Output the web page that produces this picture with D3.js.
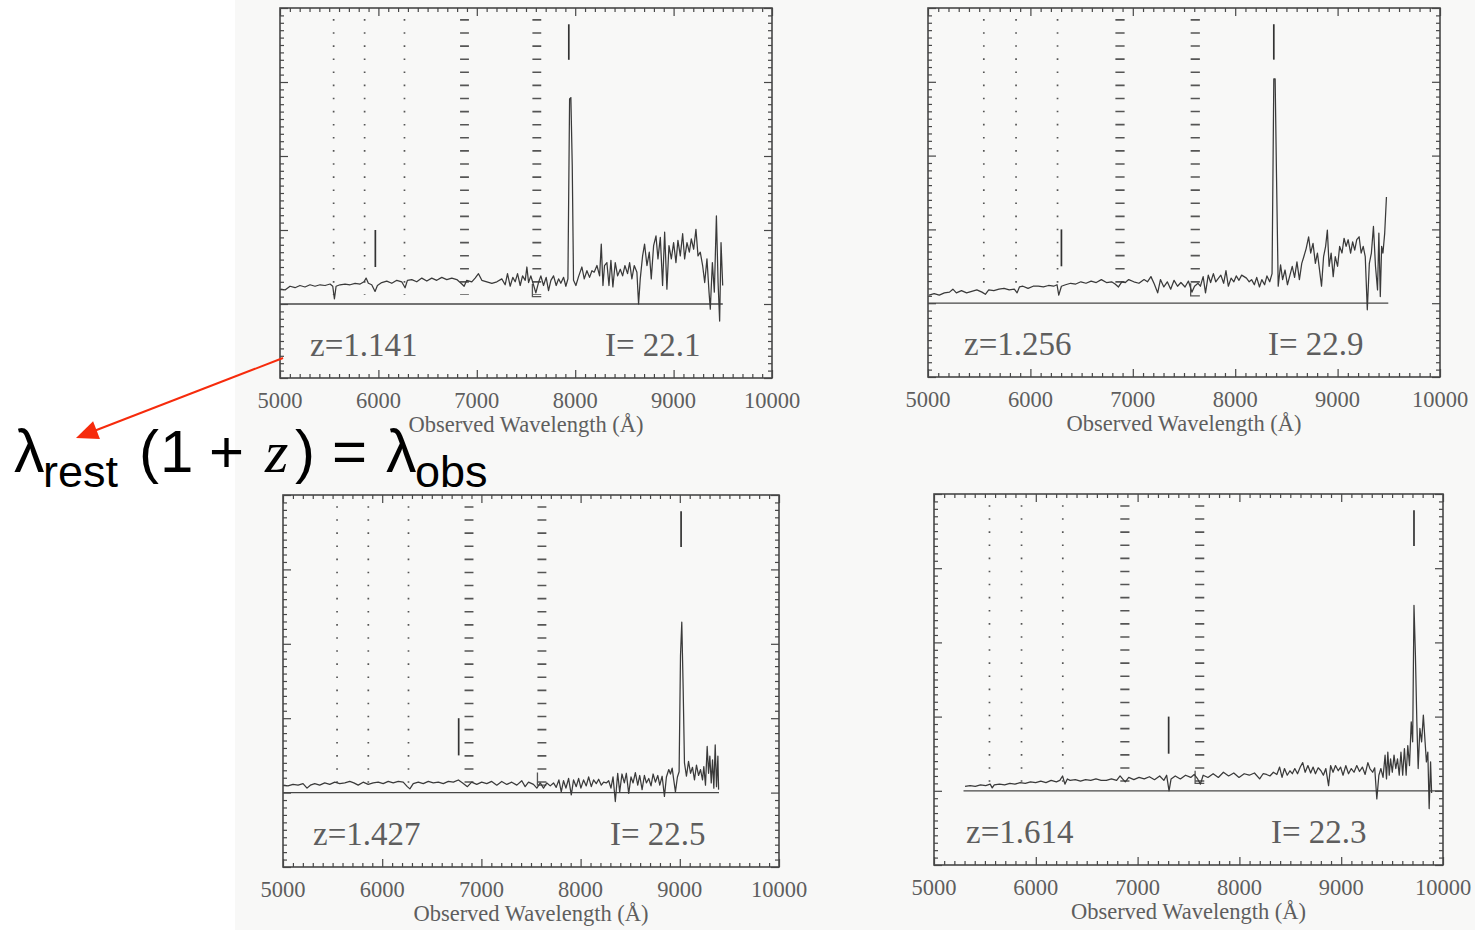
<!DOCTYPE html>
<html>
<head>
<meta charset="utf-8">
<script src="https://cdn.jsdelivr.net/npm/d3@7"></script>
<style>
  body { margin: 0; background: #fff; }
  svg { display: block; }
</style>
</head>
<body>
<svg id="canvas"></svg>
<script>
// ---- data ----
const redshifts = [1.141, 1.256, 1.427, 1.614];
const magnitudes = ['22.1', '22.9', '22.5', '22.3'];
const xTicks = [5000, 6000, 7000, 8000, 9000, 10000];
const yTicks = [-1, 0, 1, 2, 3, 4];

// atmospheric features (dotted lines, and the two absorption bands)
const skyLines = [5545, 5860, 6265];
const skyBands = [[6830, 6920], [7565, 7655]];

// line identification marks ([OII] above, MgII absorption below)
const oiiMarks = [7935, 8377, 9013, 9715];
const mgiiMarks = [5969, 6303, 6771, 7305];

// span of the zero level in each panel
const zeroSpans = [[5000, 9500], [5000, 9495], [5000, 9395], [5290, 9995]];

// [wavelength (A), flux]
const spec1 = [[5005,0.20],[5051,0.19],[5102,0.24],[5153,0.22],[5203,0.25],[5254,0.23],[5305,0.26],[5356,0.24],[5407,0.26],[5458,0.25],[5509,0.27],[5536,0.24],[5553,0.07],[5570,0.24],[5610,0.26],[5661,0.27],[5712,0.26],[5763,0.28],[5814,0.27],[5854,0.30],[5875,0.35],[5898,0.28],[5932,0.26],[5966,0.17],[5990,0.25],[6034,0.29],[6085,0.31],[6136,0.28],[6187,0.32],[6237,0.30],[6271,0.22],[6295,0.32],[6339,0.33],[6390,0.30],[6441,0.35],[6492,0.31],[6542,0.35],[6593,0.32],[6644,0.36],[6695,0.33],[6746,0.35],[6797,0.33],[6848,0.27],[6871,0.24],[6898,0.32],[6949,0.30],[6983,0.35],[7017,0.41],[7051,0.32],[7102,0.30],[7153,0.28],[7204,0.30],[7254,0.34],[7288,0.26],[7312,0.41],[7339,0.24],[7366,0.36],[7390,0.30],[7414,0.41],[7441,0.25],[7465,0.38],[7492,0.32],[7509,0.50],[7526,0.29],[7549,0.38],[7576,0.26],[7600,0.15],[7627,0.29],[7651,0.38],[7678,0.25],[7705,0.36],[7729,0.18],[7753,0.32],[7780,0.38],[7807,0.25],[7831,0.34],[7854,0.28],[7882,0.36],[7905,0.24],[7926,0.34],[7943,2.77],[7956,2.79],[7970,1.87],[7983,0.32],[8007,0.25],[8034,0.37],[8068,0.50],[8092,0.34],[8119,0.45],[8146,0.36],[8170,0.45],[8193,0.43],[8221,0.52],[8248,0.38],[8265,0.81],[8282,0.25],[8298,0.52],[8322,0.56],[8343,0.25],[8363,0.59],[8383,0.23],[8407,0.56],[8431,0.38],[8458,0.47],[8482,0.38],[8505,0.52],[8532,0.41],[8553,0.56],[8576,0.34],[8600,0.52],[8627,0.43],[8644,0.00],[8661,0.34],[8685,0.65],[8705,0.81],[8729,0.52],[8753,0.70],[8773,0.34],[8797,0.79],[8821,0.92],[8841,0.61],[8865,0.90],[8888,0.25],[8909,0.97],[8932,0.20],[8953,0.79],[8977,0.61],[9000,0.83],[9024,0.56],[9044,0.86],[9068,0.65],[9092,0.95],[9112,0.61],[9136,0.83],[9160,0.70],[9180,0.88],[9204,0.74],[9227,1.01],[9248,0.65],[9271,0.70],[9295,0.52],[9316,0.29],[9339,0.61],[9360,0.16],[9373,-0.07],[9394,0.56],[9414,0.16],[9435,1.19],[9452,0.29],[9468,-0.23],[9482,0.83],[9499,0.25]];

const spec2 = [[5010,0.11],[5060,0.13],[5110,0.11],[5160,0.14],[5210,0.15],[5243,0.19],[5277,0.14],[5327,0.17],[5377,0.14],[5427,0.16],[5477,0.18],[5527,0.15],[5560,0.12],[5593,0.18],[5643,0.17],[5693,0.19],[5743,0.20],[5793,0.18],[5843,0.19],[5870,0.14],[5893,0.22],[5927,0.23],[5977,0.20],[6027,0.23],[6077,0.23],[6127,0.22],[6177,0.24],[6227,0.23],[6260,0.25],[6277,0.11],[6303,0.23],[6343,0.25],[6393,0.27],[6443,0.26],[6493,0.29],[6543,0.27],[6593,0.30],[6643,0.28],[6693,0.32],[6743,0.28],[6793,0.29],[6827,0.26],[6860,0.22],[6893,0.29],[6927,0.28],[6960,0.32],[7010,0.29],[7060,0.27],[7110,0.32],[7143,0.29],[7177,0.36],[7210,0.26],[7243,0.14],[7270,0.32],[7303,0.22],[7337,0.29],[7370,0.19],[7403,0.31],[7437,0.23],[7470,0.28],[7510,0.22],[7543,0.30],[7577,0.15],[7603,0.23],[7637,0.27],[7660,0.23],[7687,0.36],[7710,0.14],[7737,0.38],[7760,0.28],[7787,0.40],[7810,0.29],[7837,0.34],[7860,0.38],[7887,0.27],[7910,0.44],[7933,0.23],[7960,0.34],[7987,0.29],[8010,0.37],[8037,0.31],[8063,0.38],[8087,0.36],[8110,0.34],[8137,0.29],[8160,0.32],[8187,0.25],[8210,0.35],[8237,0.22],[8260,0.32],[8287,0.25],[8310,0.37],[8337,0.29],[8360,0.40],[8377,3.04],[8390,3.04],[8403,1.76],[8420,0.23],[8443,0.52],[8463,0.32],[8487,0.45],[8510,0.25],[8533,0.37],[8557,0.50],[8580,0.35],[8603,0.56],[8627,0.32],[8650,0.54],[8670,0.63],[8693,0.74],[8717,0.90],[8737,0.68],[8760,0.81],[8783,0.54],[8803,0.68],[8827,0.41],[8843,0.23],[8863,0.63],[8883,0.77],[8900,0.99],[8917,0.50],[8937,0.68],[8957,0.36],[8977,0.63],[9000,0.50],[9020,0.77],[9043,0.68],[9063,0.88],[9083,0.77],[9103,0.86],[9127,0.68],[9147,0.83],[9167,0.72],[9187,0.86],[9210,0.90],[9230,0.68],[9250,0.77],[9270,0.63],[9290,-0.09],[9310,0.54],[9330,0.68],[9350,1.04],[9370,0.50],[9390,0.18],[9403,0.95],[9417,0.09],[9430,0.77],[9443,0.68],[9460,0.95],[9477,1.44]];

const spec3 = [[5005,0.10],[5050,0.09],[5101,0.11],[5152,0.10],[5202,0.12],[5242,0.06],[5276,0.10],[5320,0.12],[5370,0.10],[5421,0.13],[5471,0.11],[5522,0.14],[5572,0.12],[5623,0.13],[5673,0.15],[5714,0.13],[5758,0.10],[5808,0.14],[5859,0.11],[5909,0.13],[5960,0.14],[6010,0.12],[6061,0.15],[6111,0.13],[6162,0.15],[6212,0.14],[6253,0.08],[6279,0.05],[6313,0.12],[6364,0.14],[6414,0.12],[6465,0.15],[6515,0.13],[6566,0.14],[6616,0.12],[6667,0.15],[6717,0.14],[6768,0.17],[6811,0.13],[6859,0.08],[6902,0.14],[6953,0.11],[7003,0.14],[7054,0.12],[7104,0.15],[7155,0.10],[7205,0.15],[7256,0.11],[7306,0.14],[7357,0.10],[7407,0.16],[7441,0.08],[7475,0.14],[7525,0.11],[7559,0.06],[7593,0.13],[7626,0.06],[7660,0.13],[7694,0.09],[7727,0.13],[7754,0.07],[7781,0.17],[7805,0.01],[7828,0.16],[7852,0.06],[7879,0.19],[7906,-0.03],[7929,0.17],[7956,0.08],[7980,0.19],[8003,0.06],[8030,0.17],[8057,0.09],[8081,0.21],[8108,0.08],[8131,0.17],[8158,0.12],[8182,0.18],[8209,0.10],[8232,0.14],[8259,0.13],[8283,0.16],[8306,0.06],[8327,0.21],[8350,-0.12],[8374,0.26],[8394,0.01],[8417,0.25],[8441,0.13],[8461,0.26],[8485,-0.01],[8508,0.21],[8529,0.13],[8552,0.27],[8576,0.10],[8596,0.23],[8620,0.04],[8643,0.23],[8663,0.13],[8687,0.19],[8710,0.09],[8731,0.25],[8754,0.14],[8778,0.23],[8798,0.10],[8822,0.22],[8845,-0.05],[8865,0.21],[8889,0.31],[8906,0.25],[8923,0.33],[8939,0.17],[8956,0.01],[8976,0.21],[8993,0.28],[9007,1.84],[9020,2.29],[9034,1.39],[9047,0.40],[9067,0.22],[9088,0.42],[9108,0.26],[9128,0.34],[9148,0.17],[9168,0.37],[9189,0.23],[9209,0.31],[9229,0.17],[9242,0.35],[9259,0.10],[9276,0.62],[9290,0.26],[9303,0.49],[9317,0.13],[9330,0.44],[9343,0.06],[9357,0.64],[9370,0.08],[9384,0.49],[9391,0.04]];

const spec4 = [[5305,0.06],[5355,0.07],[5406,0.06],[5457,0.08],[5508,0.07],[5552,0.09],[5572,0.04],[5592,0.08],[5643,0.09],[5694,0.08],[5745,0.10],[5795,0.09],[5846,0.11],[5897,0.10],[5948,0.12],[5999,0.11],[6049,0.13],[6100,0.11],[6151,0.14],[6202,0.12],[6236,0.14],[6263,0.20],[6286,0.09],[6310,0.16],[6337,0.14],[6388,0.15],[6439,0.13],[6489,0.15],[6540,0.14],[6591,0.16],[6642,0.14],[6693,0.14],[6743,0.16],[6794,0.14],[6828,0.20],[6852,0.16],[6879,0.12],[6913,0.18],[6963,0.15],[7014,0.18],[7065,0.16],[7116,0.19],[7166,0.15],[7217,0.20],[7258,0.14],[7285,0.21],[7309,0.00],[7329,0.16],[7370,0.20],[7420,0.16],[7471,0.21],[7522,0.18],[7556,0.22],[7590,0.16],[7617,0.09],[7644,0.21],[7691,0.18],[7742,0.23],[7793,0.18],[7843,0.25],[7894,0.20],[7945,0.24],[7996,0.18],[8047,0.23],[8097,0.21],[8148,0.24],[8199,0.16],[8233,0.23],[8267,0.22],[8300,0.20],[8334,0.25],[8368,0.22],[8395,0.32],[8419,0.18],[8443,0.30],[8470,0.21],[8497,0.27],[8520,0.23],[8544,0.30],[8571,0.23],[8598,0.32],[8622,0.38],[8646,0.25],[8673,0.34],[8700,0.24],[8724,0.32],[8747,0.23],[8774,0.31],[8801,0.27],[8825,0.21],[8849,0.30],[8876,0.07],[8896,0.34],[8920,0.25],[8944,0.34],[8971,0.27],[8994,0.32],[9018,0.21],[9045,0.34],[9072,0.23],[9099,0.30],[9126,0.25],[9153,0.34],[9180,0.26],[9208,0.32],[9235,0.22],[9262,0.38],[9282,0.30],[9309,0.25],[9329,0.31],[9350,-0.11],[9370,0.21],[9390,0.30],[9411,0.18],[9431,0.48],[9445,0.16],[9458,0.52],[9472,0.21],[9485,0.43],[9502,0.25],[9519,0.48],[9536,0.30],[9553,0.43],[9570,0.21],[9587,0.52],[9604,0.21],[9621,0.57],[9638,0.21],[9654,0.61],[9671,0.34],[9688,0.93],[9702,0.66],[9715,2.50],[9729,1.83],[9743,0.93],[9756,0.30],[9773,0.84],[9790,0.66],[9807,1.02],[9824,0.66],[9837,0.39],[9851,0.52],[9864,-0.24],[9878,0.39],[9888,-0.03]];

const spectra = [spec1, spec2, spec3, spec4];

// ---- layout ----
const width = 1475;
const height = 930;

const frames = [
    { left: 280, top: 8, right: 772, bottom: 378, zDx: 30, iDx: 325 },
    { left: 928, top: 8, right: 1440, bottom: 377, zDx: 36, iDx: 340 },
    { left: 283, top: 495, right: 779, bottom: 867, zDx: 30, iDx: 327 },
    { left: 934, top: 494, right: 1443, bottom: 865, zDx: 32, iDx: 337 }
];

const ink = '#474747';
const textInk = '#5e5e5e';
const serif = '"Liberation Serif", "Times New Roman", serif';
const sans = '"Liberation Sans", Arial, Helvetica, sans-serif';

let canvas = d3.select('#canvas')
    .attr('width', width)
    .attr('height', height);

// scanned page background
canvas.append('rect')
    .attr('x', 0).attr('y', 0).attr('width', width).attr('height', height)
    .attr('fill', '#ffffff');
canvas.append('rect')
    .attr('x', 235).attr('y', 0).attr('width', width - 235).attr('height', height)
    .attr('fill', '#f8f8f7');

const addTicks = (g, axis, transform, size) => {
    g.append('g')
        .attr('transform', transform)
        .call(axis.tickSize(size).tickSizeOuter(0).tickFormat(''))
        .call(s => s.select('.domain').remove())
        .call(s => s.selectAll('line').attr('stroke', ink).attr('stroke-width', 1.2))
        .call(s => s.selectAll('text').remove());
};

const drawPanel = (i) => {
    const f = frames[i];
    const xScale = d3.scaleLinear().domain([5000, 10000]).range([f.left, f.right]);
    const yScale = d3.scaleLinear().domain([-1, 4]).range([f.bottom, f.top]);
    const g = canvas.append('g');

    const xMinor = d3.range(5000, 10000, 100).filter(v => v % 1000 !== 0);
    const yMinor = d3.range(-10, 40).map(v => v / 10).filter(v => !Number.isInteger(v));

    // inward ticks on all four sides
    addTicks(g, d3.axisBottom(xScale).tickValues(xTicks), `translate(0,${f.bottom})`, -8);
    addTicks(g, d3.axisBottom(xScale).tickValues(xMinor), `translate(0,${f.bottom})`, -4);
    addTicks(g, d3.axisTop(xScale).tickValues(xTicks), `translate(0,${f.top})`, -8);
    addTicks(g, d3.axisTop(xScale).tickValues(xMinor), `translate(0,${f.top})`, -4);
    addTicks(g, d3.axisLeft(yScale).tickValues(yTicks), `translate(${f.left},0)`, -8);
    addTicks(g, d3.axisLeft(yScale).tickValues(yMinor), `translate(${f.left},0)`, -4);
    addTicks(g, d3.axisRight(yScale).tickValues(yTicks), `translate(${f.right},0)`, -8);
    addTicks(g, d3.axisRight(yScale).tickValues(yMinor), `translate(${f.right},0)`, -4);

    g.append('rect')
        .attr('x', f.left).attr('y', f.top)
        .attr('width', f.right - f.left).attr('height', f.bottom - f.top)
        .attr('fill', 'none')
        .attr('stroke', ink)
        .attr('stroke-width', 1.6);

    // sky lines: dotted columns
    g.selectAll('.sky')
        .data(skyLines)
        .enter()
        .append('line')
        .attr('x1', d => xScale(d)).attr('x2', d => xScale(d))
        .attr('y1', yScale(3.85)).attr('y2', yScale(0.12))
        .attr('stroke', '#555')
        .attr('stroke-width', 1.7)
        .attr('stroke-dasharray', '1.6 11.5');

    // telluric bands: columns of short horizontal bars
    g.selectAll('.band')
        .data(skyBands)
        .enter()
        .append('line')
        .attr('x1', d => (xScale(d[0]) + xScale(d[1])) / 2)
        .attr('x2', d => (xScale(d[0]) + xScale(d[1])) / 2)
        .attr('y1', yScale(3.85)).attr('y2', yScale(0.12))
        .attr('stroke', '#555')
        .attr('stroke-width', d => xScale(d[1]) - xScale(d[0]))
        .attr('stroke-dasharray', '1.6 11.5');

    const aBand = skyBands[1];
    g.append('path')
        .attr('d', `M${xScale(aBand[0])},${yScale(0.27)}V${yScale(0.1)}H${xScale(aBand[1])}`)
        .attr('fill', 'none')
        .attr('stroke', '#555')
        .attr('stroke-width', 1.3);

    // zero level
    g.append('line')
        .attr('x1', xScale(zeroSpans[i][0])).attr('x2', xScale(zeroSpans[i][1]))
        .attr('y1', yScale(0)).attr('y2', yScale(0))
        .attr('stroke', ink)
        .attr('stroke-width', 1.3);

    // spectrum
    const line = d3.line()
        .x(d => xScale(d[0]))
        .y(d => yScale(d[1]));

    g.append('path')
        .datum(spectra[i])
        .attr('d', line)
        .attr('fill', 'none')
        .attr('stroke', '#3a3a3a')
        .attr('stroke-width', 1.25)
        .attr('stroke-linejoin', 'round');

    // line identification marks
    g.append('line')
        .attr('x1', xScale(oiiMarks[i])).attr('x2', xScale(oiiMarks[i]))
        .attr('y1', yScale(3.78)).attr('y2', yScale(3.3))
        .attr('stroke', '#333').attr('stroke-width', 1.7);
    g.append('line')
        .attr('x1', xScale(mgiiMarks[i])).attr('x2', xScale(mgiiMarks[i]))
        .attr('y1', yScale(1.0)).attr('y2', yScale(0.5))
        .attr('stroke', '#333').attr('stroke-width', 1.7);

    // tick labels and axis title
    g.selectAll('.xlabel')
        .data(xTicks)
        .enter()
        .append('text')
        .attr('x', d => xScale(d))
        .attr('y', f.bottom + 30)
        .attr('text-anchor', 'middle')
        .attr('font-family', serif)
        .attr('font-size', 22.5)
        .attr('fill', textInk)
        .text(d => d);

    g.append('text')
        .attr('x', (f.left + f.right) / 2)
        .attr('y', f.bottom + 54)
        .attr('text-anchor', 'middle')
        .attr('font-family', serif)
        .attr('font-size', 22.5)
        .attr('fill', textInk)
        .text('Observed Wavelength (Å)');

    g.append('text')
        .attr('x', f.left + f.zDx)
        .attr('y', f.bottom - 22)
        .attr('font-family', serif)
        .attr('font-size', 33)
        .attr('fill', textInk)
        .text('z=' + redshifts[i].toFixed(3));

    g.append('text')
        .attr('x', f.left + f.iDx)
        .attr('y', f.bottom - 22)
        .attr('font-family', serif)
        .attr('font-size', 33)
        .attr('fill', textInk)
        .attr('xml:space', 'preserve')
        .text('I= ' + magnitudes[i]);
};

const drawFormula = () => {
    const red = '#f62b0c';
    const start = [283, 358];
    const tip = [76, 438];
    const dx = tip[0] - start[0];
    const dy = tip[1] - start[1];
    const len = Math.hypot(dx, dy);
    const ux = dx / len, uy = dy / len;
    const headLen = 22, headHalf = 9.5;
    const bx = tip[0] - ux * headLen, by = tip[1] - uy * headLen;

    canvas.append('line')
        .attr('x1', start[0]).attr('y1', start[1])
        .attr('x2', bx + ux * 2).attr('y2', by + uy * 2)
        .attr('stroke', red)
        .attr('stroke-width', 2);
    canvas.append('polygon')
        .attr('points', [
            [tip[0], tip[1]],
            [bx - uy * headHalf, by + ux * headHalf],
            [bx + uy * headHalf, by - ux * headHalf]
        ].map(p => p.join(',')).join(' '))
        .attr('fill', red);

    const pieces = [
        { t: 'λ', x: 14, y: 472, size: 61, font: sans },
        { t: 'rest', x: 43, y: 487, size: 45, font: sans },
        { t: '(', x: 139, y: 472, size: 60, font: sans },
        { t: '1', x: 160, y: 472, size: 60, font: sans },
        { t: '+', x: 209, y: 472, size: 60, font: sans },
        { t: 'z', x: 265, y: 472, size: 60, font: serif, italic: true },
        { t: ')', x: 295, y: 472, size: 60, font: sans },
        { t: '=', x: 332, y: 472, size: 60, font: sans },
        { t: 'λ', x: 386, y: 472, size: 61, font: sans },
        { t: 'obs', x: 415, y: 487, size: 45, font: sans }
    ];

    canvas.selectAll('.formula')
        .data(pieces)
        .enter()
        .append('text')
        .attr('x', d => d.x)
        .attr('y', d => d.y)
        .attr('font-family', d => d.font)
        .attr('font-size', d => d.size)
        .attr('font-style', d => d.italic ? 'italic' : 'normal')
        .attr('fill', '#000')
        .text(d => d.t);
};

d3.range(4).forEach(drawPanel);
drawFormula();
</script>
</body>
</html>
